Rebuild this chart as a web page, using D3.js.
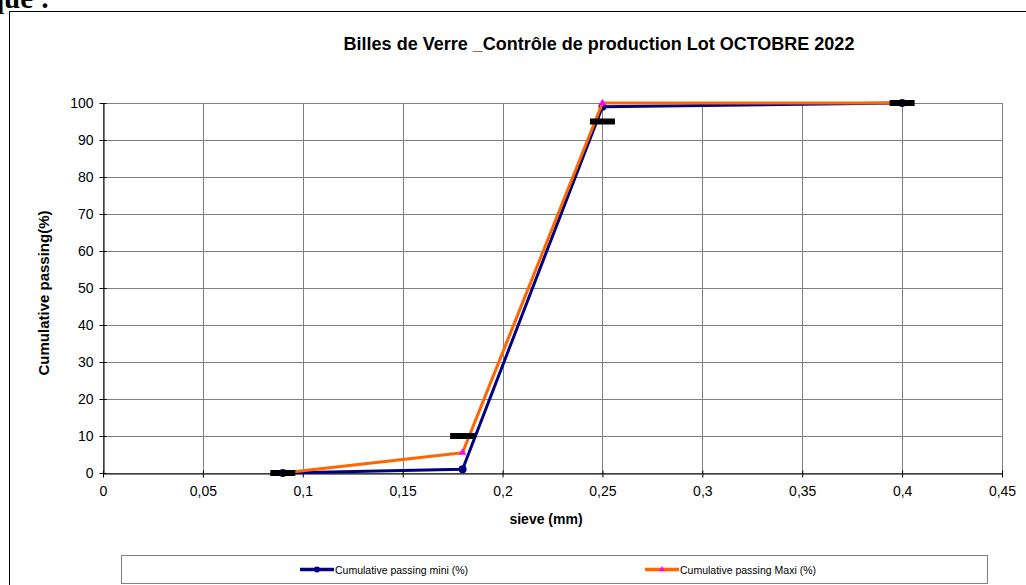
<!DOCTYPE html>
<html><head><meta charset="utf-8">
<script src="https://cdn.jsdelivr.net/npm/d3@7"></script>
<style>
html,body{margin:0;padding:0;background:#fff;}
svg{display:block;}
text{font-family:"Liberation Sans",Arial,sans-serif;}
</style></head>
<body>
<svg id="c" width="1026" height="585"></svg>
<script>
const sieve = [0.09, 0.18, 0.25, 0.4];
const miniValues = [0, 1, 99, 100];
const maxiValues = [0, 5.5, 100, 100];
const specValues = [0, 10, 95, 100];
const xTicks = [0, 0.05, 0.1, 0.15, 0.2, 0.25, 0.3, 0.35, 0.4, 0.45];
const yTicks = [0, 10, 20, 30, 40, 50, 60, 70, 80, 90, 100];
const seriesNames = ["Cumulative passing mini (%)", "Cumulative passing Maxi (%)"];
const title = "Billes de Verre _Contrôle de production Lot OCTOBRE 2022";

const svg = d3.select("#c");
const L = 103, R = 1002, T = 103, B = 473;
const x = d3.scaleLinear().domain([0, 0.45]).range([L, R]);
const y = d3.scaleLinear().domain([0, 100]).range([B, T]);
const fmt = d => String(d).replace(".", ",");

// heading fragment
svg.append("text").attr("x", 50).attr("y", 8).attr("text-anchor", "end")
  .style("font-family", "'Liberation Serif','Times New Roman',serif")
  .style("font-weight", "bold").style("font-size", "29px").text("que :");

// outer frame
svg.append("rect").attr("x", 9.5).attr("y", 11.5).attr("width", 1040).attr("height", 620)
  .attr("fill", "none").attr("stroke", "#000").attr("stroke-width", 1);

// title
svg.append("text").attr("x", 599).attr("y", 50).attr("text-anchor", "middle")
  .style("font-weight", "bold").style("font-size", "18px").text(title);

// grid
const g = svg.append("g");
g.selectAll(".gy").data(yTicks).join("line")
  .attr("x1", L).attr("x2", R).attr("y1", d => Math.round(y(d)) + 0.5).attr("y2", d => Math.round(y(d)) + 0.5)
  .attr("stroke", "#808080").attr("stroke-width", 1);
g.selectAll(".gx").data(xTicks).join("line")
  .attr("y1", T).attr("y2", B).attr("x1", d => Math.round(x(d)) + 0.5).attr("x2", d => Math.round(x(d)) + 0.5)
  .attr("stroke", "#808080").attr("stroke-width", 1);
g.append("rect").attr("x", L + 0.5).attr("y", T + 0.5).attr("width", R - L).attr("height", B - T)
  .attr("fill", "none").attr("stroke", "#808080");

// axes
const ax = svg.append("g").attr("transform", `translate(0,${B + 0.5})`)
  .call(d3.axisBottom(x).tickValues(xTicks).tickFormat(fmt).tickSizeInner(4).tickSizeOuter(0));
const ay = svg.append("g").attr("transform", `translate(${L + 0.5},0)`)
  .call(d3.axisLeft(y).tickValues(yTicks).tickFormat(d => d).tickSizeInner(4).tickSizeOuter(0));
[ax, ay].forEach(a => {
  a.select(".domain").attr("stroke", "#000");
  a.selectAll(".tick line").attr("stroke", "#000");
  a.selectAll("text").style("font-size", "14px").attr("fill", "#000")
    .style("font-family", "'Liberation Sans',Arial,sans-serif");
});
ax.selectAll(".tick line").attr("y1", -3).attr("y2", 4);
ax.selectAll("text").attr("y", 22).attr("dy", "0");
ay.selectAll(".tick line").attr("x1", 3).attr("x2", -4);
ay.selectAll("text").attr("x", -10);

// axis titles
svg.append("text").attr("x", 546).attr("y", 524).attr("text-anchor", "middle")
  .style("font-weight", "bold").style("font-size", "14px").text("sieve (mm)");
svg.append("text").attr("transform", "translate(49,293) rotate(-90)").attr("text-anchor", "middle")
  .style("font-weight", "bold").style("font-size", "15px").text("Cumulative passing(%)");

// lines
const line = d3.line().x(d => x(d[0])).y(d => y(d[1]));
const miniData = sieve.map((s, i) => [s, miniValues[i]]);
const maxiData = sieve.map((s, i) => [s, maxiValues[i]]);
const specData = sieve.map((s, i) => [s, specValues[i]]);

svg.append("path").datum(miniData).attr("d", line).attr("fill", "none")
  .attr("stroke", "#000080").attr("stroke-width", 3).attr("stroke-linejoin", "round");
svg.selectAll(".mm").data(miniData).join("circle")
  .attr("cx", d => x(d[0])).attr("cy", d => y(d[1])).attr("r", 4).attr("fill", "#000080");

svg.append("path").datum(maxiData).attr("d", line).attr("fill", "none")
  .attr("stroke", "#FF6600").attr("stroke-width", 3).attr("stroke-linejoin", "round");
const tri = d3.symbol().type(d3.symbolTriangle).size(24);
svg.selectAll(".mx").data(maxiData).join("path")
  .attr("transform", d => `translate(${x(d[0])},${y(d[1])})`).attr("d", tri).attr("fill", "#FF00FF");

// spec dashes
svg.selectAll(".sp").data(specData).join("rect")
  .attr("x", d => x(d[0]) - 12.5).attr("y", d => y(d[1]) - 3).attr("width", 25).attr("height", 6)
  .attr("fill", "#000");

// legend
svg.append("rect").attr("x", 121.5).attr("y", 555.5).attr("width", 866).attr("height", 28)
  .attr("fill", "#fff").attr("stroke", "#808080");
const legItems = [
  {name: seriesNames[0], color: "#000080", mark: "circle", x0: 300},
  {name: seriesNames[1], color: "#FF6600", mark: "tri", x0: 645}
];
legItems.forEach(it => {
  const lg = svg.append("g");
  lg.append("line").attr("x1", it.x0).attr("x2", it.x0 + 34).attr("y1", 569.5).attr("y2", 569.5)
    .attr("stroke", it.color).attr("stroke-width", 3.5);
  if (it.mark === "circle") {
    lg.append("circle").attr("cx", it.x0 + 17).attr("cy", 569.5).attr("r", 3).attr("fill", it.color);
  } else {
    lg.append("path").attr("transform", `translate(${it.x0 + 17},569.5)`)
      .attr("d", d3.symbol().type(d3.symbolTriangle).size(16)).attr("fill", "#FF00FF");
  }
  lg.append("text").attr("x", it.x0 + 35).attr("y", 573.5)
    .style("font-family", "'Liberation Sans Narrow','Arial Narrow',sans-serif")
    .style("font-size", "10.5px").text(it.name);
});
</script>
</body></html>
